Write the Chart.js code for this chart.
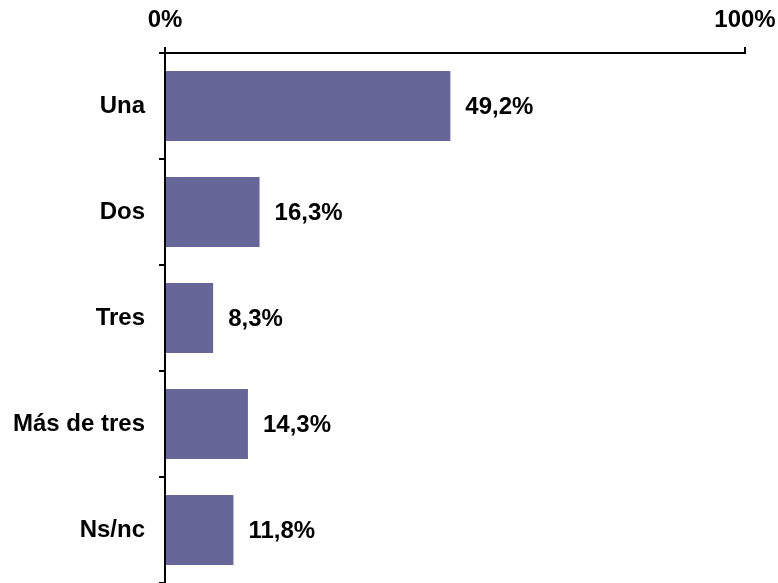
<!DOCTYPE html>
<html>
<head>
<meta charset="utf-8">
<script src="https://cdn.jsdelivr.net/npm/chart.js@4"></script>
<style>
  html, body { margin: 0; padding: 0; background: #fff; overflow: hidden; }
  canvas { display: block; }
</style>
</head>
<body>
<canvas id="grafico" width="778" height="583"></canvas>
<script>
// datos
var categorias = ["Una", "Dos", "Tres", "Más de tres", "Ns/nc"];
var valores = [49.2, 16.3, 8.3, 14.3, 11.8];
var ticksX = [0, 100];

var fuente = { family: "'Liberation Sans', Arial, sans-serif", size: 24, weight: "bold" };

// etiquetas al final de cada barra
var etiquetas = {
  id: "etiquetas",
  afterDatasetsDraw: function (chart) {
    var ctx = chart.ctx;
    var meta = chart.getDatasetMeta(0);
    ctx.save();
    ctx.fillStyle = "#000";
    ctx.font = "bold 24px 'Liberation Sans', Arial, sans-serif";
    ctx.textAlign = "left";
    ctx.textBaseline = "middle";
    meta.data.forEach(function (bar, i) {
      var txt = valores[i].toFixed(1).replace(".", ",") + "%";
      ctx.fillText(txt, bar.x + 15, bar.y + 1);
    });
    ctx.restore();
  }
};

var ctx = document.getElementById("grafico");

new Chart(ctx, {
  type: "bar",
  data: {
    labels: categorias,
    datasets: [{
      data: valores,
      backgroundColor: "#666699",
      borderWidth: 0,
      barPercentage: 0.66,
      categoryPercentage: 1
    }]
  },
  options: {
    indexAxis: "y",
    responsive: false,
    animation: false,
    layout: { padding: { left: 0, right: 33, top: 0, bottom: 0 } },
    plugins: {
      legend: { display: false },
      tooltip: { enabled: false }
    },
    scales: {
      x: {
        position: "top",
        min: 0,
        max: 100,
        afterBuildTicks: function (scale) {
          scale.ticks = ticksX.map(function (v) { return { value: v }; });
        },
        afterFit: function (scale) {
          scale.height = 53;
          scale.paddingLeft = 0;
          scale.paddingRight = 0;
        },
        ticks: {
          color: "#000",
          font: fuente,
          padding: 12,
          maxRotation: 0,
          callback: function (v) { return v + "%"; }
        },
        grid: {
          drawOnChartArea: false,
          color: "#000",
          lineWidth: 2,
          tickLength: 6
        },
        border: { color: "#000", width: 2 }
      },
      y: {
        afterFit: function (scale) {
          scale.width = 165;
          scale.paddingTop = 0;
          scale.paddingBottom = 0;
        },
        ticks: {
          color: "#000",
          font: fuente,
          padding: 14
        },
        grid: {
          drawOnChartArea: false,
          color: "#000",
          lineWidth: 2,
          tickLength: 6,
          offset: true
        },
        border: { color: "#000", width: 2 }
      }
    }
  },
  plugins: [etiquetas]
});
</script>
</body>
</html>
